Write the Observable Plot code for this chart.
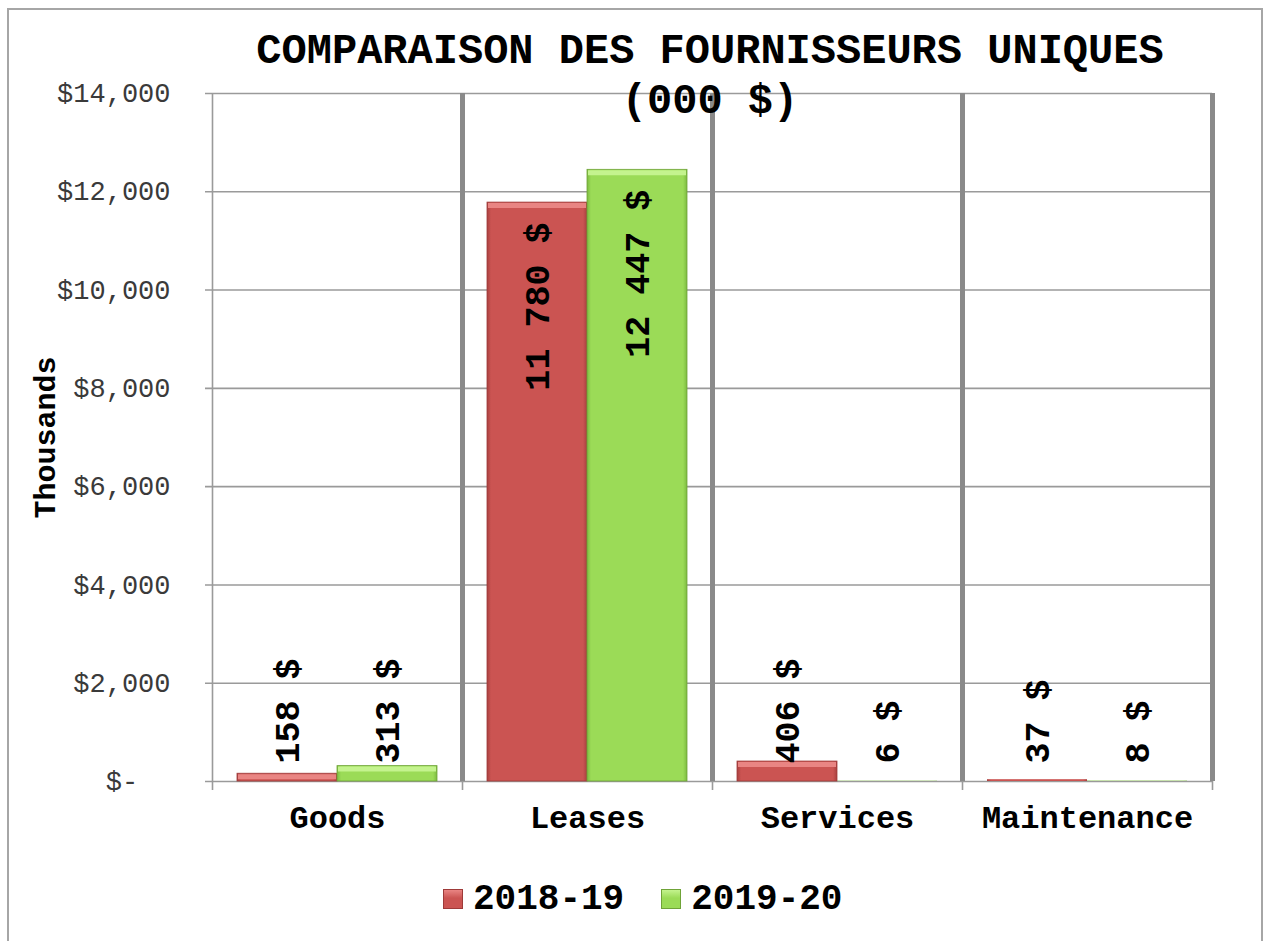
<!DOCTYPE html>
<html><head><meta charset="utf-8">
<script src="https://cdn.jsdelivr.net/npm/d3@7"></script>
<script src="https://cdn.jsdelivr.net/npm/@observablehq/plot@0.6"></script>
<style>
body{margin:0;background:#fff;}
#wrap{position:relative;width:1272px;height:941px;overflow:hidden;font-family:"Liberation Mono","Courier New",monospace;background:#fff;}
#frame{position:absolute;left:7px;top:8px;width:1256px;height:980px;border:2px solid #a6a6a6;box-sizing:border-box;}
#chart{position:absolute;left:0;top:0;}
#title{position:absolute;left:0;top:27px;width:1420px;text-align:center;font-weight:bold;font-size:42px;line-height:50px;color:#000;white-space:nowrap;z-index:2;}
#legend{position:absolute;left:443px;top:875px;height:48px;display:flex;align-items:center;font-weight:bold;font-size:36px;color:#000;white-space:nowrap;}
.sw{display:inline-block;width:20px;height:20px;margin-right:10px;box-sizing:border-box;}
.item{display:flex;align-items:center;margin-right:37px;}
</style>
</head><body>
<div id="wrap">
  <div id="frame"></div>
  <div id="chart"></div>
  <div id="title">COMPARAISON DES FOURNISSEURS UNIQUES<br>(000 $)</div>
  <div id="legend"></div>
</div>
<script>
// ---- data ----
const categories = ["Goods", "Leases", "Services", "Maintenance"];
const series = ["2018-19", "2019-20"];
const values2018 = [158, 11780, 406, 37];
const values2019 = [313, 12447, 6, 8];
const yTicks = [0, 2000, 4000, 6000, 8000, 10000, 12000, 14000];
const colors = {"2018-19": "#CB5452", "2019-20": "#9BDB57"};
const bevel = {"2018-19": "#E98583", "2019-20": "#C4F38E"};
const edges = {"2018-19": "#9e3a39", "2019-20": "#6fa338"};

const rows18 = categories.map((c, i) => ({cat: c, v: values2018[i], s: series[0]}));
const rows19 = categories.map((c, i) => ({cat: c, v: values2019[i], s: series[1]}));

const fmtLabel = d => d3.format(",")(d.v).replace(/,/g, " ") + " $";
const fmtTick = d => d === 0 ? "$-\u00a0\u00a0" : "$" + d3.format(",")(d);
const TALL = 2000;
const FONT = "Liberation Mono, Courier New, monospace";

function seriesMarks(rows, s, inL, inR, dx) {
  return [
    Plot.barY(rows, {x: "cat", y: "v", fill: s === series[0] ? "url(#gR)" : "url(#gG)",
      stroke: d => d.v >= 100 ? edges[s] : "none", strokeWidth: 0.8, insetLeft: inL, insetRight: inR}),
    Plot.tickY(rows.filter(d => d.v >= 100), {x: "cat", y: "v", stroke: bevel[s], strokeWidth: 5, dy: 3, insetLeft: inL + 1, insetRight: inR + 1}),
    Plot.text(rows.filter(d => d.v > TALL), {x: "cat", y: "v", text: fmtLabel, rotate: -90, textAnchor: "end", lineAnchor: "middle",
      dx: dx, dy: 20, fontSize: 35, fontWeight: "bold", fill: "#000", fontFamily: FONT}),
    Plot.text(rows.filter(d => d.v <= TALL), {x: "cat", y: 0, text: fmtLabel, rotate: -90, textAnchor: "start", lineAnchor: "middle",
      dx: dx, dy: -18, fontSize: 35, fontWeight: "bold", fill: "#000", fontFamily: FONT})
  ];
}

const chart = Plot.plot({
  width: 1272,
  height: 860,
  marginLeft: 212,
  marginRight: 60,
  marginTop: 93,
  marginBottom: 79,
  style: {fontFamily: FONT, background: "transparent", overflow: "visible"},
  x: {domain: categories, padding: 0},
  y: {domain: [0, 14000]},
  color: {domain: series, range: series.map(s => colors[s])},
  marks: [
    Plot.ruleY(yTicks, {stroke: "#9a9a9a", strokeWidth: 1.6, insetLeft: -7}),
    Plot.ruleX([categories[0]], {x: d => d, dx: -125, stroke: "#9a9a9a", strokeWidth: 1.6}),
    Plot.ruleX([categories[0]], {x: d => d, dx: -125, y1: 0, y2: 0, insetBottom: -9, stroke: "#9a9a9a", strokeWidth: 1.6}),
    Plot.ruleX(categories, {x: d => d, dx: 125, y1: 0, y2: 0, insetBottom: -9, stroke: "#9a9a9a", strokeWidth: 1.6}),
    Plot.ruleX(categories, {x: d => d, dx: 125, stroke: "#8a8a8a", strokeWidth: 5}),
    ...seriesMarks(rows18, series[0], 25, 125, -50),
    ...seriesMarks(rows19, series[1], 125, 25, 50),
    Plot.text(["Thousands"], {text: d => d, frameAnchor: "left", textAnchor: "middle", rotate: -90, dx: -167, fontSize: 30, fontWeight: "bold", fill: "#000", fontFamily: FONT}),
    Plot.axisY(yTicks, {tickSize: 0, tickPadding: 42, tickFormat: fmtTick, fontSize: 27, fill: "#3a3a3a", label: null, fontFamily: FONT}),
    Plot.axisX({tickSize: 0, tickPadding: 24, fontSize: 32, fontWeight: "bold", fill: "#000", label: null, fontFamily: FONT})
  ]
});

// gradients for bar bevel edges
const svg = d3.select(chart);
const defs = svg.insert("defs", ":first-child");
function grad(id, edge, base) {
  const g = defs.append("linearGradient").attr("id", id).attr("x1", "0").attr("x2", "1").attr("y1", "0").attr("y2", "0");
  [[0, edge], [0.04, base], [0.96, base], [1, edge]].forEach(([o, c]) => g.append("stop").attr("offset", o).attr("stop-color", c));
}
grad("gR", "#a8403f", colors["2018-19"]);
grad("gG", "#7cbb40", colors["2019-20"]);
document.getElementById("chart").appendChild(chart);

// legend
const lg = d3.select("#legend");
series.forEach(s => {
  const it = lg.append("div").attr("class", "item");
  it.append("span").attr("class", "sw")
    .style("background", `linear-gradient(to bottom, ${bevel[s]} 0%, ${colors[s]} 45%, ${colors[s]} 100%)`)
    .style("border", `1px solid ${edges[s]}`);
  it.append("span").text(s);
});
</script>
</body></html>
